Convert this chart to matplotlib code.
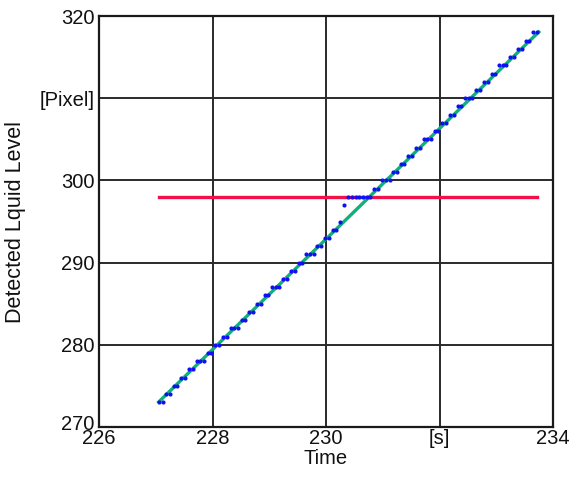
import matplotlib
matplotlib.use("Agg")
import matplotlib.pyplot as plt
from matplotlib.transforms import ScaledTranslation

plt.rcParams['font.family'] = ['Liberation Sans', 'DejaVu Sans']

# Measured samples (time [s], detected level [pixel])
times = [227.05, 227.12, 227.18, 227.25, 227.32, 227.38, 227.45, 227.52, 227.58, 227.65,
         227.72, 227.78, 227.85, 227.92, 227.98, 228.05, 228.12, 228.18, 228.25, 228.32,
         228.38, 228.45, 228.52, 228.58, 228.65, 228.72, 228.78, 228.85, 228.92, 228.98,
         229.05, 229.12, 229.18, 229.25, 229.32, 229.38, 229.45, 229.52, 229.58, 229.65,
         229.72, 229.78, 229.85, 229.92, 229.98, 230.05, 230.12, 230.18, 230.25, 230.32,
         230.38, 230.45, 230.52, 230.58, 230.65, 230.72, 230.78, 230.85, 230.92, 230.98,
         231.05, 231.12, 231.18, 231.25, 231.32, 231.38, 231.45, 231.52, 231.58, 231.65,
         231.72, 231.78, 231.85, 231.92, 231.98, 232.05, 232.12, 232.18, 232.25, 232.32,
         232.38, 232.45, 232.52, 232.58, 232.65, 232.72, 232.78, 232.85, 232.92, 232.98,
         233.05, 233.12, 233.18, 233.25, 233.32, 233.38, 233.45, 233.52, 233.58, 233.65,
         233.72]
levels = [273, 273, 274, 274, 275, 275, 276, 276, 277, 277,
          278, 278, 278, 279, 279, 280, 280, 281, 281, 282,
          282, 282, 283, 283, 284, 284, 285, 285, 286, 286,
          287, 287, 287, 288, 288, 289, 289, 290, 290, 291,
          291, 291, 292, 292, 293, 293, 294, 294, 295, 297,
          298, 298, 298, 298, 298, 298, 298, 299, 299, 300,
          300, 300, 301, 301, 302, 302, 303, 303, 304, 304,
          305, 305, 305, 306, 306, 307, 307, 308, 308, 309,
          309, 310, 310, 310, 311, 311, 312, 312, 313, 313,
          314, 314, 314, 315, 315, 316, 316, 317, 317, 318,
          318]

# Fitted line endpoints
fit_t = [227.03, 233.77]
fit_y = [272.9, 318.2]

# Threshold line
thr_t = [227.05, 233.72]
thr_y = [298, 298]

xticks = [226, 228, 230, 232, 234]
xticklabels = ["226", "228", "230", "[s]", "234"]
yticks = [270, 280, 290, 300, 310, 320]
yticklabels = ["270", "280", "290", "300", "[Pixel]", "320"]

fig = plt.figure(figsize=(5.70, 4.82), dpi=100)
ax = fig.add_axes([0.1737, 0.1141, 0.7965, 0.8527])

ax.plot(thr_t, thr_y, color='#F0104A', lw=2.4, zorder=3)
ax.plot(fit_t, fit_y, color='#10B078', lw=2.4, zorder=3, solid_capstyle='butt')
ax.plot(times, levels, linestyle='none', marker='o', ms=3.0, color='#1010F0',
        markeredgewidth=0, zorder=4)

ax.set_xlim(226, 234)
ax.set_ylim(270, 320)
ax.set_xticks(xticks)
ax.set_xticklabels(xticklabels)
ax.set_yticks(yticks)
ax.set_yticklabels(yticklabels)
ax.tick_params(length=0, labelsize=14.5, pad=3, colors='#111111')
ax.tick_params(axis='x', pad=1.5)
ax.grid(True, color='#2a2a2a', lw=1.4)
ax.set_axisbelow(True)
for s in ax.spines.values():
    s.set_linewidth(1.6)
    s.set_color('#1a1a1a')

# nudge the bottom y label up slightly, as in the reference
lbl = ax.get_yticklabels()[0]
lbl.set_transform(lbl.get_transform() + ScaledTranslation(0, 5 / 100, fig.dpi_scale_trans))

ax.set_xlabel("Time", fontsize=14.5, labelpad=1, color='#111111')
ax.set_ylabel("Detected Lquid Level", fontsize=15.5, labelpad=10, color='#111111')

fig.savefig("out.png", dpi=100)
